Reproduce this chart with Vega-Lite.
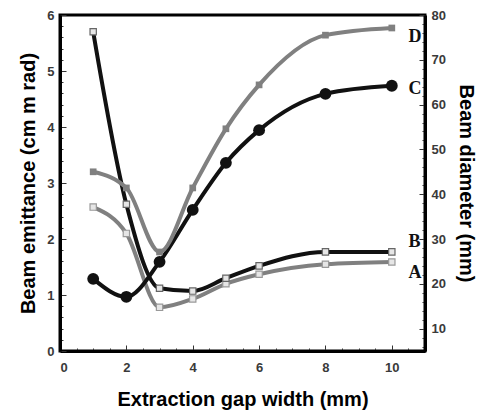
{
  "$schema": "https://vega.github.io/schema/vega-lite/v6.json",
  "width": 365,
  "height": 336,
  "autosize": {"type": "none"},
  "padding": {"left": 60, "top": 15, "right": 63, "bottom": 61},
  "config": {
    "view": {"stroke": "black", "strokeWidth": 3},
    "axis": {
      "domainColor": "black",
      "domainWidth": 3,
      "tickColor": "#333",
      "labelFont": "Liberation Sans",
      "labelFontWeight": "bold",
      "labelFontSize": 13,
      "labelColor": "#3a3a3a",
      "titleFont": "Liberation Sans",
      "titleFontWeight": "bold",
      "titleFontSize": 20,
      "titleColor": "black",
      "grid": false,
      "format": "~g"
    }
  },
  "datasets": {
    "curves": [
      {"gap": 1, "value": 2.57, "series": "A"},
      {"gap": 2, "value": 2.1, "series": "A"},
      {"gap": 3, "value": 0.78, "series": "A"},
      {"gap": 4, "value": 0.93, "series": "A"},
      {"gap": 5, "value": 1.2, "series": "A"},
      {"gap": 6, "value": 1.37, "series": "A"},
      {"gap": 8, "value": 1.55, "series": "A"},
      {"gap": 10, "value": 1.59, "series": "A"},
      {"gap": 1, "value": 5.7, "series": "B"},
      {"gap": 2, "value": 2.62, "series": "B"},
      {"gap": 3, "value": 1.12, "series": "B"},
      {"gap": 4, "value": 1.07, "series": "B"},
      {"gap": 5, "value": 1.3, "series": "B"},
      {"gap": 6, "value": 1.52, "series": "B"},
      {"gap": 8, "value": 1.77, "series": "B"},
      {"gap": 10, "value": 1.77, "series": "B"},
      {"gap": 1, "value": 21.1, "series": "C"},
      {"gap": 2, "value": 17.1, "series": "C"},
      {"gap": 3, "value": 24.9, "series": "C"},
      {"gap": 4, "value": 36.5, "series": "C"},
      {"gap": 5, "value": 47.0, "series": "C"},
      {"gap": 6, "value": 54.3, "series": "C"},
      {"gap": 8, "value": 62.4, "series": "C"},
      {"gap": 10, "value": 64.2, "series": "C"},
      {"gap": 1, "value": 45.0, "series": "D"},
      {"gap": 2, "value": 41.4, "series": "D"},
      {"gap": 3, "value": 27.1, "series": "D"},
      {"gap": 4, "value": 41.4, "series": "D"},
      {"gap": 5, "value": 54.6, "series": "D"},
      {"gap": 6, "value": 64.4, "series": "D"},
      {"gap": 8, "value": 75.5, "series": "D"},
      {"gap": 10, "value": 77.1, "series": "D"}
    ],
    "labels": [
      {"gap": 10.5, "value": 1.95, "series": "B"},
      {"gap": 10.5, "value": 1.39, "series": "A"},
      {"gap": 10.5, "value": 63.5, "series": "C"},
      {"gap": 10.5, "value": 75.1, "series": "D"}
    ]
  },
  "encoding": {
    "x": {
      "field": "gap",
      "type": "quantitative",
      "scale": {"domain": [0, 11], "nice": false},
      "axis": {
        "title": "Extraction gap width (mm)",
        "values": [0, 0.5, 1, 1.5, 2, 2.5, 3, 3.5, 4, 4.5, 5, 5.5, 6, 6.5, 7, 7.5, 8, 8.5, 9, 9.5, 10, 10.5],
        "labelExpr": "datum.value % 2 === 0 ? datum.label : ''",
        "tickSize": {"condition": {"test": "datum.value % 2 === 0", "value": -6}, "value": -3},
        "labelPadding": 16,
        "titlePadding": 15
      }
    }
  },
  "layer": [
    {
      "encoding": {
        "y": {
          "field": "value",
          "type": "quantitative",
          "scale": {"domain": [0, 6], "nice": false},
          "axis": {
            "orient": "left",
            "title": "Beam emittance (cm m rad)",
            "values": [0, 0.2, 0.4, 0.6, 0.8, 1, 1.2, 1.4, 1.6, 1.8, 2, 2.2, 2.4, 2.6, 2.8, 3, 3.2, 3.4, 3.6, 3.8, 4, 4.2, 4.4, 4.6, 4.8, 5, 5.2, 5.4, 5.6, 5.8, 6],
            "labelExpr": "abs(datum.value - round(datum.value)) < 0.01 ? format(datum.value, 'd') : ''",
            "tickSize": {"condition": {"test": "abs(datum.value - round(datum.value)) < 0.01", "value": -6}, "value": -3},
            "labelPadding": 12,
            "titlePadding": 8
          }
        }
      },
      "layer": [
        {
          "data": {"name": "curves"},
          "transform": [{"filter": "datum.series === 'A' || datum.series === 'B'"}],
          "mark": {"type": "line", "strokeWidth": 4, "interpolate": "monotone"},
          "encoding": {
            "color": {"field": "series", "type": "nominal", "scale": {"domain": ["A", "B"], "range": ["#808080", "#111111"]}, "legend": null}
          }
        },
        {
          "data": {"name": "curves"},
          "transform": [{"filter": "datum.series === 'A' || datum.series === 'B'"}],
          "mark": {"type": "point", "shape": "square", "filled": false, "fill": "#e6e6e6", "fillOpacity": 1, "strokeWidth": 1.2, "size": 40},
          "encoding": {
            "stroke": {"field": "series", "type": "nominal", "scale": {"domain": ["A", "B"], "range": ["#999999", "#666666"]}, "legend": null}
          }
        },
        {
          "data": {"name": "labels"},
          "transform": [{"filter": "datum.series === 'A' || datum.series === 'B'"}],
          "mark": {"type": "text", "font": "Liberation Serif", "fontWeight": "bold", "fontSize": 18, "align": "left", "baseline": "middle", "color": "#111"},
          "encoding": {"text": {"field": "series"}}
        }
      ]
    },
    {
      "encoding": {
        "y": {
          "field": "value",
          "type": "quantitative",
          "scale": {"domain": [5, 80], "nice": false, "zero": false},
          "axis": {
            "orient": "right",
            "title": "Beam diameter (mm)",
            "values": [6, 8, 10, 12, 14, 16, 18, 20, 22, 24, 26, 28, 30, 32, 34, 36, 38, 40, 42, 44, 46, 48, 50, 52, 54, 56, 58, 60, 62, 64, 66, 68, 70, 72, 74, 76, 78, 80],
            "labelExpr": "datum.value % 10 === 0 ? datum.label : ''",
            "tickSize": {"condition": {"test": "datum.value % 10 === 0", "value": -6}, "value": -3},
            "labelPadding": 12,
            "titlePadding": 10
          }
        }
      },
      "layer": [
        {
          "data": {"name": "curves"},
          "transform": [{"filter": "datum.series === 'C' || datum.series === 'D'"}],
          "mark": {"type": "line", "strokeWidth": 4, "interpolate": "monotone"},
          "encoding": {
            "color": {"field": "series", "type": "nominal", "scale": {"domain": ["C", "D"], "range": ["#111111", "#808080"]}, "legend": null}
          }
        },
        {
          "data": {"name": "curves"},
          "transform": [{"filter": "datum.series === 'C' || datum.series === 'D'"}],
          "mark": {"type": "point", "filled": true, "opacity": 1},
          "encoding": {
            "fill": {"field": "series", "type": "nominal", "scale": {"domain": ["C", "D"], "range": ["#111111", "#808080"]}, "legend": null},
            "shape": {"field": "series", "type": "nominal", "scale": {"domain": ["C", "D"], "range": ["circle", "square"]}, "legend": null},
            "size": {"field": "series", "type": "nominal", "scale": {"domain": ["C", "D"], "range": [140, 45]}, "legend": null}
          }
        },
        {
          "data": {"name": "labels"},
          "transform": [{"filter": "datum.series === 'C' || datum.series === 'D'"}],
          "mark": {"type": "text", "font": "Liberation Serif", "fontWeight": "bold", "fontSize": 18, "align": "left", "baseline": "middle", "color": "#111"},
          "encoding": {"text": {"field": "series"}}
        }
      ]
    }
  ],
  "resolve": {"scale": {"y": "independent", "color": "independent", "shape": "independent", "size": "independent", "fill": "independent", "stroke": "independent"}}
}
